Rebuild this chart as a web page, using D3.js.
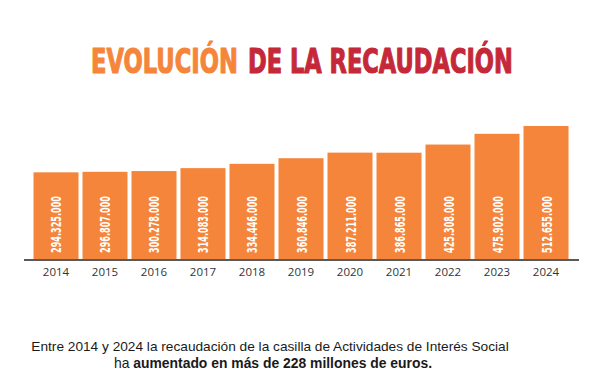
<!DOCTYPE html>
<html>
<head>
<meta charset="utf-8">
<script src="https://cdn.jsdelivr.net/npm/d3@7"></script>
<style>
  html, body { margin: 0; padding: 0; background: #ffffff; }
  svg { display: block; }
</style>
</head>
<body>
<svg id="chart" width="601" height="390"></svg>
<script>
// ---- data ----
const years = ["2014","2015","2016","2017","2018","2019","2020","2021","2022","2023","2024"];
const values = [294325000, 296807000, 300278000, 314083000, 334446000, 360846000, 387211000, 386865000, 425308000, 475902000, 512655000];
const valueLabels = ["294.325.000","296.807.000","300.278.000","314.083.000","334.446.000","360.846.000","387.211.000","386.865.000","425.308.000","475.902.000","512.655.000"];
const titleParts = ["EVOLUCIÓN", "DE LA RECAUDACIÓN"];
const noteLine1 = "Entre 2014 y 2024 la recaudación de la casilla de Actividades de Interés Social";
const noteLine2Plain = "ha ";
const noteLine2Bold = "aumentado en más de 228 millones de euros.";
// visual baseline of the original (non-zero) value axis
const axisFloor = -114000000;

const ORANGE = "#F5853A";
const RED = "#C52838";

const svg = d3.select("#chart");

// ---- scales ----
const x = d3.scaleBand()
  .domain(years)
  .range([23.5, 578.5])
  .paddingInner(4 / 49)
  .paddingOuter(0.204);

const baseY = 259;
const y = d3.scaleLinear()
  .domain([axisFloor, 512655000])
  .range([baseY, 126]);

// squeeze a text horizontally (in its own frame) so it has the wanted length
function squeeze(sel, target) {
  sel.each(function () {
    const w = this.getComputedTextLength();
    const k = target / w;
    const t = d3.select(this);
    t.attr("transform", (t.attr("data-tr") || "") + ` scale(${k},1)`);
  });
}

// ---- bars ----
const bars = svg.append("g");
bars.selectAll("rect")
  .data(years.map((yr, i) => ({yr, v: values[i]})))
  .join("rect")
  .attr("x", d => x(d.yr))
  .attr("y", d => y(d.v))
  .attr("width", x.bandwidth())
  .attr("height", d => baseY - y(d.v))
  .attr("fill", ORANGE);

// ---- value labels (rotated, condensed) ----
const vlabels = bars.selectAll("text")
  .data(years.map((yr, i) => ({yr, lbl: valueLabels[i]})))
  .join("text")
  .attr("data-tr", d => `translate(${x(d.yr) + x.bandwidth() / 2 + 5.5},${baseY - 6}) rotate(-90)`)
  .attr("text-anchor", "start")
  .attr("fill", "#ffffff")
  .attr("font-family", "'DejaVu Sans Condensed', 'DejaVu Sans', sans-serif")
  .attr("font-weight", "bold")
  .attr("font-size", 14.5)
  .text(d => d.lbl);
squeeze(vlabels, 57);

// ---- x axis ----
const axis = svg.append("g")
  .attr("transform", `translate(0,${baseY + 0.5})`)
  .call(d3.axisBottom(x).tickSize(0).tickPadding(8).tickSizeOuter(0));
axis.select(".domain").attr("stroke", "#222").attr("stroke-width", 1.5);
axis.selectAll("text")
  .attr("font-family", "'Open Sans', sans-serif")
  .attr("font-size", 11.5)
  .attr("fill", "#333");

// ---- title ----
function titlePart(txt, x0, len, color) {
  const t = svg.append("text")
    .attr("data-tr", `translate(${x0},73)`)
    .attr("font-family", "'DejaVu Sans', sans-serif")
    .attr("font-weight", "bold")
    .attr("font-size", 34)
    .attr("fill", color)
    .attr("stroke", color)
    .attr("stroke-width", 1.2)
    .attr("stroke-linejoin", "round")
    .text(txt);
  squeeze(t, len);
}
titlePart(titleParts[0], 91, 147, ORANGE);
titlePart(titleParts[1], 248, 265, RED);

// ---- note ----
const l1 = svg.append("text")
  .attr("data-tr", `translate(270,351)`)
  .attr("text-anchor", "middle")
  .attr("font-family", "'Liberation Sans', Arial, sans-serif")
  .attr("font-size", 13.6)
  .attr("fill", "#1a1a1a")
  .text(noteLine1);
squeeze(l1, 478);
const l2 = svg.append("text")
  .attr("x", 273).attr("y", 368)
  .attr("text-anchor", "middle")
  .attr("font-family", "'Liberation Sans', Arial, sans-serif")
  .attr("font-size", 13.9)
  .attr("fill", "#1a1a1a");
l2.append("tspan").text(noteLine2Plain);
l2.append("tspan").attr("font-weight", "bold").text(noteLine2Bold);
</script>
</body>
</html>
